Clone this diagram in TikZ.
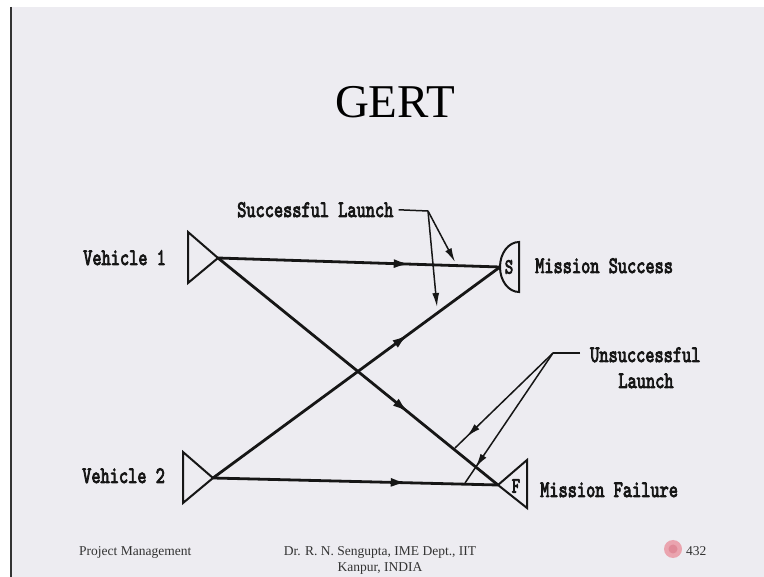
\documentclass[tikz,border=0pt]{standalone}
\usepackage{fontspec}
\setmainfont{Liberation Serif}
\newfontfamily\typeface{lmmono10-regular.otf}[FakeBold=4]
\usetikzlibrary{arrows.meta,decorations.markings}

\definecolor{slidebg}{HTML}{EDECF1}
\definecolor{ink}{HTML}{161616}
\definecolor{badge}{HTML}{EAA4AF}
\definecolor{badgedark}{HTML}{DC7F8E}

% typewriter lettering is tall, narrow and heavy
\newcommand\tallt[1]{\scalebox{1}[1.35]{#1}}

\tikzset{
  flow/.style={draw=ink, line width=2.8pt, postaction={decorate},
    decoration={markings, mark=at position 0.68 with {\arrow{Latex[length=16pt,width=9pt]}}}},
  leader/.style={draw=ink, line width=1.5pt},
  callout/.style={leader, -{Latex[length=14pt,width=7pt]}},
  nearcallout/.style={leader, postaction={decorate},
    decoration={markings, mark=at position 0.88 with {\arrow{Latex[length=14pt,width=7pt]}}}},
  gate/.style={draw=ink, line width=2pt, line join=miter},
  tlabel/.style={font=\typeface\fontsize{17.5}{19}\selectfont, inner sep=0pt, text=ink},
  glabel/.style={font=\typeface\fontsize{16}{18}\selectfont, inner sep=0pt, text=ink},
  foot/.style={font=\fontsize{13.5}{15}\selectfont, inner sep=0pt, text=black!80},
}

\begin{document}
\begin{tikzpicture}[x=1pt, y=-1pt]
% slide frame
\useasboundingbox (0,0) rectangle (764,577);
\fill[white] (0,0) rectangle (764,577);
\fill[slidebg] (12,7) rectangle (764,577);
\draw[black!80, line width=2.6pt] (11,7) -- (11,577);

% title
\node[font=\fontsize{47}{50}\selectfont, anchor=base, inner sep=0pt] (title) at (395,118) {GERT};

% key points of the network
\coordinate (v1) at (218,258);
\coordinate (v2) at (213,478);
\coordinate (s) at (500,267);
\coordinate (f) at (498,485);

% source nodes (vehicles)
\draw[gate] (188,232) -- (188,283) -- (v1) -- cycle;
\draw[gate] (183,452) -- (183,503) -- (v2) -- cycle;

% sink nodes
\draw[gate] (519,242) arc[start angle=270, end angle=90, x radius=19, y radius=25] -- cycle;
\node[glabel] (sl) at (509,267) {\tallt{S}};
\draw[gate] (f) -- (527,460) -- (527,508) -- cycle;
\node[glabel] (fl) at (516,486) {\tallt{F}};

% activities
\draw[flow] (v1) -- (s);
\draw[flow] (v2) -- (s);
\draw[flow] (v1) -- (f);
\draw[flow] (v2) -- (f);

% node labels
\node[tlabel, anchor=base west] (veh1) at (83,265) {\tallt{Vehicle 1}};
\node[tlabel, anchor=base west] (veh2) at (82,483) {\tallt{Vehicle 2}};
\node[tlabel, anchor=base west] (msucc) at (535,273) {\tallt{Mission Success}};
\node[tlabel, anchor=base west] (mfail) at (540,497) {\tallt{Mission Failure}};

% callout: successful launch
\node[tlabel, anchor=base west] (succ) at (237,217) {\tallt{Successful Launch}};
\coordinate (sj) at (428,211);
\coordinate (sa) at (455,262);
\coordinate (sb) at (437,307);
\draw[leader] ([xshift=5pt]succ.east) -- (sj);
\draw[callout] (sj) -- (sa);
\draw[callout] (sj) -- (sb);

% callout: unsuccessful launch
\node[tlabel, anchor=base west] (unsa) at (590,362) {\tallt{Unsuccessful}};
\node[tlabel, anchor=base] (unsb) at (646,388) {\tallt{Launch}};
\coordinate (uj) at (553,353);
\coordinate (ua) at (455,448);
\coordinate (ub) at (465,483);
\draw[leader] (580,353) -- (uj);
\draw[nearcallout] (uj) -- (ua);
\draw[nearcallout] (uj) -- (ub);

% footer
\node[foot, anchor=base west] (course) at (79,555) {Project Management};
\node[foot, anchor=base] (auth1) at (380,555) {Dr. R. N. Sengupta, IME Dept., IIT};
\node[foot, anchor=base] (auth2) at (380,572) {Kanpur, INDIA};
\fill[badge] (673,549) circle (9);
\fill[badgedark!70!badge] (673,549) circle (4.5);
\node[foot, anchor=base west] (page) at (686,555) {432};
\end{tikzpicture}
\end{document}
